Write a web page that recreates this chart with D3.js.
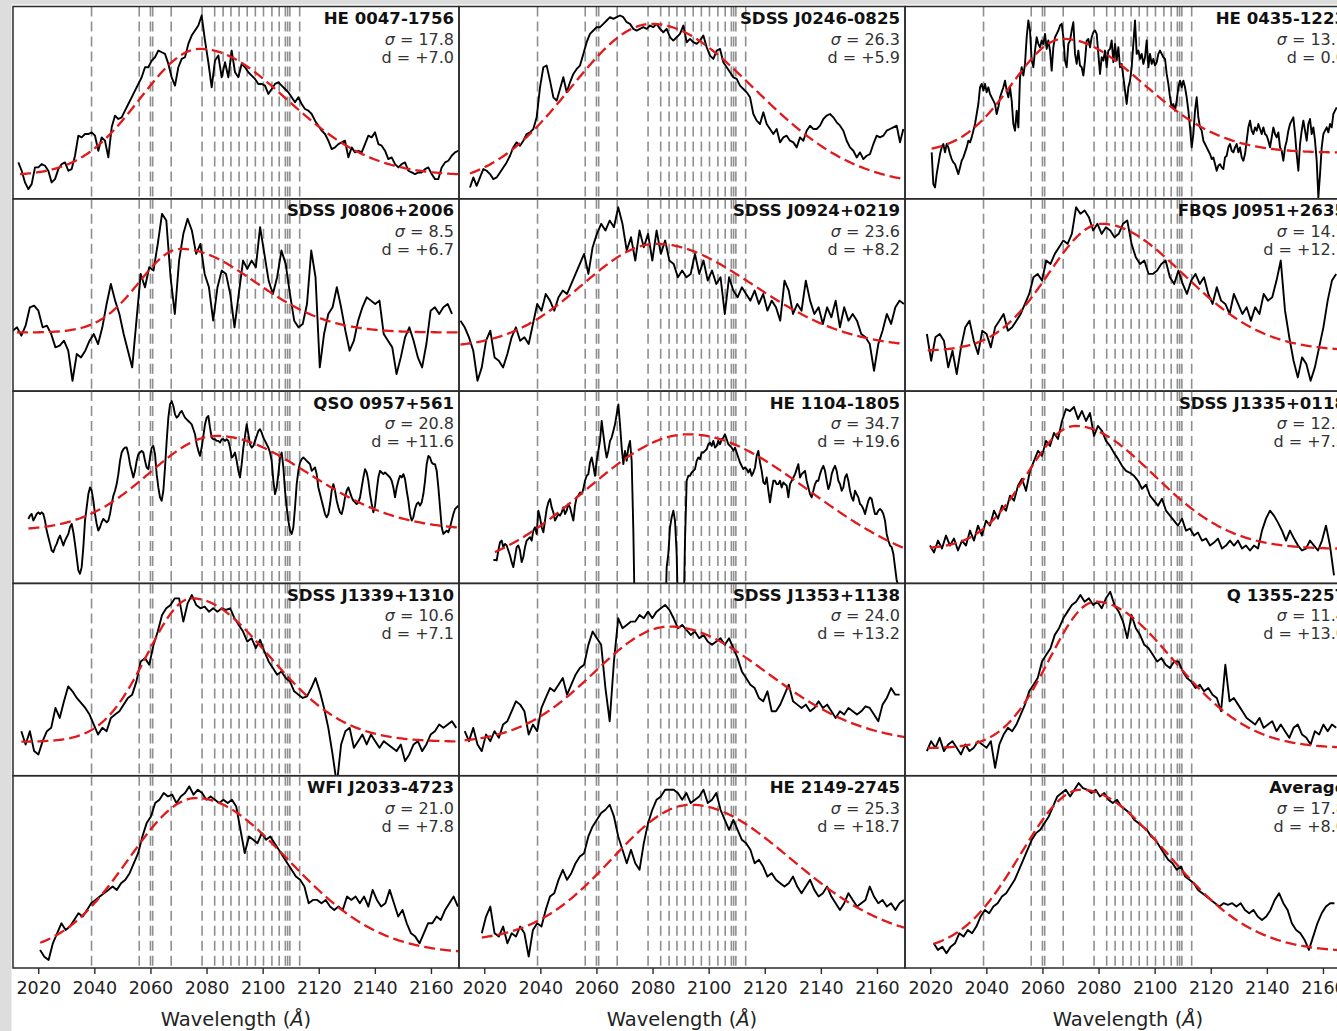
<!DOCTYPE html>
<html>
<head>
<meta charset="utf-8">
<script src="https://cdn.jsdelivr.net/npm/d3@7"></script>
<style>
  html, body { margin: 0; padding: 0; background: #fff; }
  svg { display: block; }
</style>
</head>
<body>
<svg id="chart" width="1337" height="1031"></svg>
<script>
// ---------------------------------------------------------------------------
// Shared axis values
// ---------------------------------------------------------------------------
const waveDomain = [2011, 2170];
const tickValues = [2020, 2040, 2060, 2080, 2100, 2120, 2140, 2160];

// Line positions marked by the grey dashed verticals (Angstrom)
const lineList = [2039.0, 2056.0, 2060.0, 2060.8, 2067.4, 2078.4, 2082.9, 2085.9, 2088.7,
                  2091.6, 2094.5, 2097.4, 2100.3, 2103.3, 2105.9, 2108.1, 2108.9, 2109.7, 2113.2];

// Intrinsic half-widths of the asymmetric emission profile (Angstrom);
// each side is broadened by the fitted Gaussian sigma.
const blueHalfWidth = 12;
const redHalfWidth  = 25;

// ---------------------------------------------------------------------------
// Objects and fit parameters
// ---------------------------------------------------------------------------
const names   = ["HE 0047-1756", "SDSS J0246-0825", "HE 0435-1223",
                 "SDSS J0806+2006", "SDSS J0924+0219", "FBQS J0951+2635",
                 "QSO 0957+561", "HE 1104-1805", "SDSS J1335+0118",
                 "SDSS J1339+1310", "SDSS J1353+1138", "Q 1355-2257",
                 "WFI J2033-4723", "HE 2149-2745", "Average"];
const sigmas  = [17.8, 26.3, 13.7, 8.5, 23.6, 14.7, 20.8, 34.7, 12.3, 10.6, 24.0, 11.4, 21.0, 25.3, 17.8];
const dValues = [7.0, 5.9, 0.0, 6.7, 8.2, 12.7, 11.6, 19.6, 7.3, 7.1, 13.2, 13.0, 7.8, 18.7, 8.0];

// ---------------------------------------------------------------------------
// Spectra: first wavelength, sampling step (Angstrom) and flux (arbitrary units)
// ---------------------------------------------------------------------------
const lamStart = [2012.90, 2014.92, 2020.51, 2010.93, 2011.52, 2018.80, 2016.47, 2023.24,
                  2019.91, 2013.97, 2013.04, 2018.80, 2020.65, 2019.12, 2021.23];
const lamStep  = [1.1884, 1.1884, 0.5942, 1.52, 1.52, 1.52, 0.5942, 0.5942,
                  1.426, 1.52, 1.52, 1.52, 1.52, 1.52, 1.52];

const fluxHE0047 = [11.5,9.0,5.5,3.5,5.0,10.0,10.0,11.0,10.5,9.0,5.5,6.5,9.5,11.0,11.5,9.0,9.5,13.5,19.5,19.0,
  20.0,20.0,20.5,19.5,15.0,19.0,18.0,13.0,22.0,25.5,24.5,25.0,27.0,29.0,31.0,33.0,35.0,37.0,40.0,40.0,
  42.0,43.0,45.0,44.5,44.0,41.0,37.0,34.5,40.0,42.5,43.0,47.0,49.5,51.0,52.5,55.5,48.0,41.5,34.0,42.0,
  43.5,37.0,41.5,37.0,45.0,38.5,37.0,41.0,40.0,38.5,37.5,36.5,35.0,35.0,34.5,32.0,33.5,35.0,35.5,34.5,
  33.5,32.5,31.0,29.5,31.0,29.0,27.5,27.0,26.0,24.0,22.5,21.0,20.0,18.0,15.5,16.0,17.0,17.5,18.0,13.0,
  16.0,14.5,15.0,14.5,17.0,19.5,19.0,20.5,17.0,16.5,15.0,12.5,13.0,11.0,10.0,11.0,11.5,9.0,8.5,8.0,
  8.5,8.5,9.5,10.0,8.0,6.5,6.5,10.0,11.5,12.0,13.5,14.5,15.0];

const fluxJ0246 = [4.0,7.0,4.5,7.0,9.5,9.0,8.0,6.5,7.0,8.5,10.0,11.5,13.5,16.0,17.5,16.5,18.0,20.0,20.5,21.5,
  25.0,34.0,40.0,40.5,36.0,31.0,30.0,33.5,37.0,32.5,35.5,38.0,39.5,40.5,44.0,47.5,50.0,51.0,52.0,52.0,
  53.0,54.0,55.0,54.5,55.0,55.5,55.0,53.5,53.0,51.5,51.0,51.5,52.0,51.5,52.5,52.0,53.0,51.5,50.5,51.5,
  49.0,48.0,49.0,50.0,52.5,47.5,48.5,47.5,47.0,48.0,49.5,46.0,43.5,42.5,45.0,45.5,41.5,40.0,38.5,37.0,
  36.5,34.5,33.5,32.5,31.0,26.0,24.0,23.0,26.5,23.0,21.5,20.0,21.5,17.5,19.0,19.5,18.0,17.5,16.0,19.0,
  18.0,21.0,22.5,21.5,21.5,22.5,24.5,25.5,26.0,25.0,23.5,22.5,21.0,18.0,16.0,15.0,13.0,14.5,12.5,13.5,
  14.0,17.0,19.5,19.0,19.5,21.0,21.5,22.0,22.5,17.5,21.5];

const fluxHE0435 = [14.5,5.0,4.0,8.0,11.0,14.0,16.0,17.0,14.5,17.0,16.0,14.0,12.5,11.5,11.0,9.5,8.0,10.0,12.0,13.0,
  14.5,16.0,18.0,17.5,19.0,21.0,23.0,26.0,29.0,34.0,35.0,33.0,35.0,32.5,34.0,32.0,31.0,30.0,29.0,26.0,
  28.0,31.0,32.5,34.0,36.0,33.0,31.0,34.0,30.0,23.0,21.0,27.0,22.0,37.0,40.0,37.5,41.0,49.0,54.0,51.0,
  42.0,40.0,45.0,49.0,47.0,46.0,48.0,47.0,50.0,45.5,48.0,45.0,39.0,46.0,49.0,50.0,51.0,52.5,53.0,49.0,
  42.0,40.0,47.0,48.0,51.0,53.5,44.0,41.0,45.0,40.5,40.0,37.5,42.0,48.0,48.5,46.0,49.0,50.5,51.0,50.0,
  44.0,38.0,43.0,42.0,45.0,40.0,45.0,45.5,48.0,41.5,47.0,42.0,46.0,40.0,41.0,37.0,33.0,29.0,34.0,36.0,
  40.0,47.0,54.0,44.0,45.0,42.5,44.0,41.0,43.0,48.0,40.0,44.0,41.0,42.5,40.5,41.5,44.0,45.0,44.0,43.0,
  42.5,38.0,35.0,31.0,28.0,29.0,27.0,30.0,34.0,36.0,34.0,36.0,34.0,31.0,27.0,22.0,16.0,20.0,27.0,31.0,
  25.0,22.0,21.0,18.0,17.0,16.0,15.0,14.0,12.5,13.0,11.0,9.0,10.5,11.0,10.0,9.5,13.0,13.5,16.0,17.0,
  15.0,14.5,16.0,17.0,14.5,16.0,13.0,12.0,14.0,18.0,22.0,24.0,21.0,20.0,22.0,21.0,23.0,21.5,20.0,22.0,
  20.0,19.5,18.0,16.0,19.0,22.0,20.0,19.0,20.5,16.0,15.0,12.0,16.0,18.0,21.0,23.0,24.0,25.0,20.0,14.0,
  9.0,17.0,21.0,24.0,21.0,18.0,23.0,24.5,20.0,22.0,18.0,12.0,1.0,8.0,16.0,20.0,21.0,22.0,20.5,23.0,
  22.0,26.0,27.0,28.0];

const fluxJ0806 = [19.0,20.0,17.5,20.5,26.0,26.5,25.0,20.0,20.5,18.0,14.0,14.5,16.0,13.0,4.0,12.0,11.0,13.0,16.0,18.0,
  15.0,20.0,27.0,33.0,28.0,24.0,18.0,13.0,8.0,22.0,36.0,32.0,38.0,37.0,45.0,54.0,52.0,35.0,24.0,40.0,
  48.0,52.5,49.0,42.0,45.0,36.0,32.0,22.0,32.0,37.0,36.0,30.0,20.0,30.0,40.0,37.5,40.0,38.0,50.0,42.0,
  34.0,30.0,35.0,43.0,39.0,30.0,22.0,20.0,21.0,27.0,43.0,35.0,8.0,18.0,24.0,26.0,32.0,26.0,19.0,13.0,
  16.0,22.0,26.0,29.0,28.0,27.0,28.0,18.0,16.0,14.0,6.0,11.0,17.0,20.0,16.0,11.0,8.0,15.0,25.0,26.0,
  24.0,26.0,27.0,24.0];

const fluxJ0924 = [22.0,20.0,17.0,13.0,4.0,8.0,16.0,19.0,11.0,10.0,8.0,12.0,17.0,20.0,16.0,17.0,15.0,21.0,27.0,25.0,
  30.0,28.0,25.0,29.0,31.0,30.0,33.0,36.0,39.0,42.0,36.0,44.0,48.0,51.0,49.0,52.0,50.0,56.0,51.0,43.0,
  47.0,40.0,49.0,44.0,48.0,40.0,49.0,42.0,46.0,40.0,39.0,35.0,37.0,35.0,36.0,42.0,36.0,40.0,34.0,37.0,
  33.0,35.0,24.0,35.0,31.0,29.0,32.0,30.0,28.0,31.0,27.0,30.0,25.0,28.0,26.0,22.0,34.0,31.0,24.0,27.0,
  25.0,34.0,28.0,24.0,26.0,21.0,26.0,23.0,28.0,20.0,26.0,22.0,24.0,22.0,18.0,17.0,15.0,7.0,15.0,19.0,
  24.0,21.0,26.0,28.0,27.0];

const fluxJ0951 = [18.0,10.0,17.0,18.0,16.0,8.0,13.0,6.0,14.0,20.0,22.0,16.0,12.0,19.0,18.0,14.0,20.0,22.0,24.0,19.0,
  20.0,22.0,24.0,27.0,30.0,35.0,36.0,34.0,40.0,39.0,42.0,44.0,46.0,45.0,48.0,56.0,54.0,55.0,53.0,49.0,
  51.0,48.0,50.0,49.0,47.0,48.0,51.0,52.0,45.0,41.0,39.0,40.0,36.0,36.0,37.0,39.0,40.0,35.0,33.0,37.0,
  33.0,30.0,34.0,36.0,33.0,35.0,30.0,27.0,32.0,28.0,27.0,24.0,30.0,27.0,24.0,26.0,22.0,26.0,24.0,30.0,
  28.0,29.0,34.0,40.0,25.0,17.0,10.0,5.0,11.0,9.0,4.0,8.0,14.0,20.0,28.0,34.0,36.0];

const fluxQSO0957 = [18.5,19.5,20.0,18.0,19.0,20.0,20.5,20.0,20.5,20.0,18.0,15.0,13.0,11.0,9.0,8.5,10.0,11.0,12.5,13.5,
  12.0,10.5,12.0,13.0,14.0,16.0,17.0,14.5,11.0,7.0,3.0,2.0,4.0,10.0,18.0,22.0,26.0,28.0,27.0,24.0,
  20.0,17.0,15.0,16.0,17.5,18.5,18.0,17.5,18.0,20.0,23.0,25.5,27.0,29.0,32.0,36.0,38.5,39.5,40.0,40.0,
  38.0,35.0,33.0,31.0,33.0,36.0,38.0,38.5,39.0,38.5,36.0,34.0,33.5,37.0,40.0,40.5,38.0,32.0,28.0,25.0,
  24.0,27.0,34.0,42.0,49.0,53.0,54.0,52.5,50.0,49.0,49.5,50.5,51.0,50.0,49.0,48.5,48.0,47.5,47.0,45.5,
  44.0,41.0,39.0,37.5,40.0,43.5,47.0,49.0,49.5,46.0,43.0,42.5,42.5,42.0,42.0,41.5,42.5,42.5,42.0,42.5,
  42.0,40.0,37.0,37.5,38.5,36.0,33.0,31.0,35.0,40.0,43.5,47.0,44.0,41.0,40.0,40.5,42.0,43.5,45.0,45.5,
  44.5,43.0,42.0,41.0,40.0,38.5,36.0,30.0,26.0,28.0,32.0,37.0,38.5,34.0,27.0,22.0,18.0,15.0,14.0,16.0,
  22.0,29.0,33.0,35.5,36.5,37.0,36.5,36.0,35.5,35.0,33.0,33.5,34.0,32.0,28.0,26.0,24.0,22.0,20.0,19.0,
  20.0,23.0,27.0,29.0,27.0,24.0,22.0,20.5,20.0,22.0,25.0,27.0,28.0,26.5,25.0,24.0,23.5,23.0,23.5,25.0,
  28.0,31.0,33.5,32.5,30.0,26.0,23.0,20.5,22.5,27.0,31.0,33.0,32.5,32.0,32.5,32.0,31.5,31.0,30.0,28.0,
  25.0,28.0,30.0,31.5,31.0,32.0,30.5,27.0,24.0,20.0,18.0,19.0,21.5,23.0,23.5,22.5,23.5,26.0,30.0,35.0,
  37.5,37.0,35.5,35.0,35.0,33.0,28.0,22.0,16.0,14.0,14.5,15.0,14.5,16.0,18.0,20.0,21.5,22.0,22.5];

const fluxHE1104 = [6.0,6.2,6.0,9.0,11.5,12.0,10.0,11.0,10.5,9.0,7.5,5.5,4.0,7.0,10.0,10.5,9.0,5.5,7.0,10.0,
  12.0,12.5,13.0,12.0,15.0,16.0,14.0,21.0,19.0,16.0,14.5,18.0,21.5,23.5,24.5,22.0,20.5,18.0,19.0,20.0,
  19.5,20.5,22.0,20.0,21.0,23.0,22.0,20.0,18.0,22.5,25.0,25.5,26.5,26.0,27.5,30.0,31.5,32.0,35.5,37.0,
  34.5,31.5,36.0,39.0,42.0,48.0,44.0,40.0,37.0,39.0,42.0,43.0,45.0,47.0,50.0,53.0,47.0,40.0,35.0,39.0,
  36.0,40.0,42.0,36.0,15.0,-15,-15,-15,-15,-15,-15,-15,-15,-15,-15,-15,-15,-15,-15,-15,-15,-15,-15,-15,
  4.0,8.0,16.0,19.0,21.0,18.0,8.0,-15,-15,-15,-15,12.0,30.0,31.5,31.5,32.5,33.0,33.5,36.0,37.0,
  36.5,38.5,38.5,39.0,39.5,41.0,41.5,40.5,42.0,40.0,40.5,42.0,41.0,42.5,43.0,44.0,42.5,41.0,40.5,40.0,
  39.0,40.0,38.5,37.0,35.5,34.5,33.5,34.0,33.5,32.5,33.5,31.5,32.5,34.0,37.5,39.0,35.5,33.0,29.5,29.0,
  31.0,27.0,23.5,27.0,30.0,30.0,29.0,29.0,30.0,28.0,29.5,29.0,28.5,25.0,29.0,30.0,31.0,32.0,33.5,35.0,
  31.0,32.0,32.5,33.0,30.0,28.0,26.0,25.0,27.0,29.0,30.0,30.0,32.0,33.5,34.5,33.0,30.0,27.5,29.0,32.0,
  33.5,34.5,33.0,30.0,29.0,27.0,28.0,31.0,32.0,30.0,27.0,25.0,24.0,27.0,26.0,25.0,23.0,22.5,21.5,20.0,
  22.0,24.0,25.0,24.5,22.0,20.0,20.0,21.0,21.5,21.0,20.0,18.0,14.0,12.0,10.5,10.0,8.0,4.0,0.0,-1.5];

const fluxJ1335 = [10.5,8.4,12.0,9.6,13.5,10.5,12.6,9.0,12.0,10.5,15.0,12.0,16.5,13.5,18.0,16.5,21.0,18.6,22.5,21.0,
  25.5,24.0,28.5,30.6,27.0,33.0,36.0,39.0,37.5,42.0,40.5,44.4,42.6,48.0,51.6,51.0,52.2,48.6,51.0,48.0,
  50.4,43.5,46.5,45.0,42.0,40.5,38.4,36.6,34.5,33.0,32.4,31.5,30.0,27.6,28.8,25.5,24.0,22.5,24.6,21.0,
  19.5,18.0,16.5,18.6,15.0,15.6,13.5,14.4,12.0,12.6,10.5,11.4,12.6,9.6,10.5,12.0,10.5,12.0,9.6,10.5,
  9.0,10.5,9.6,15.0,18.6,21.0,19.5,17.4,15.0,12.0,15.0,12.6,10.5,9.0,9.6,12.0,10.5,9.0,12.0,16.5,
  10.5,1.5];

const fluxJ1339 = [14.0,10.0,14.0,8.0,7.0,11.0,14.0,15.0,21.0,18.0,23.0,27.5,26.0,24.0,22.5,21.0,19.0,16.0,13.0,15.0,
  14.0,18.0,19.0,20.0,22.0,24.0,25.0,29.0,35.0,36.0,34.0,40.0,44.0,49.0,51.0,52.0,54.0,54.0,47.0,52.5,
  55.0,52.0,51.0,51.5,50.0,51.0,50.0,51.0,50.5,51.0,48.0,46.0,44.0,41.0,42.0,39.0,41.5,38.0,35.0,33.0,
  31.0,32.0,30.0,29.0,26.0,25.0,24.0,24.5,27.0,30.0,26.0,21.0,15.0,7.0,-2.0,10.0,14.0,15.0,9.0,11.0,
  13.0,10.0,13.0,11.0,9.0,11.0,10.0,9.0,8.0,10.0,5.0,7.0,10.0,11.0,8.0,10.0,13.0,14.0,16.0,15.0,
  16.0,17.0,15.0];

const fluxJ1353 = [14.0,11.0,15.0,10.0,8.0,13.0,11.0,14.0,12.0,16.0,17.0,20.0,23.0,22.0,20.0,13.0,16.0,14.0,21.0,24.0,
  27.0,26.0,28.0,30.0,25.0,28.0,31.0,33.0,34.0,40.0,44.0,42.0,40.0,27.0,17.0,35.0,48.0,45.0,46.0,47.0,
  47.0,49.0,48.0,50.0,48.0,50.0,51.0,52.0,50.5,48.0,45.0,46.0,44.5,43.0,44.0,42.0,43.0,41.0,40.0,41.0,
  42.0,40.0,42.0,39.0,36.0,32.0,30.0,28.0,27.0,24.0,23.0,26.0,20.0,20.0,22.0,25.0,28.0,23.0,22.0,21.0,
  22.0,20.0,21.0,23.0,21.0,22.0,20.0,18.0,20.0,19.0,21.0,20.0,19.0,20.0,21.5,21.0,19.0,17.0,22.0,24.0,
  27.0,25.0,25.0];

const fluxQ1355 = [8.0,11.0,9.0,12.0,8.0,10.0,11.0,9.0,7.0,10.0,8.0,9.0,11.0,10.0,9.0,11.0,3.0,10.0,13.0,15.0,
  14.0,16.0,19.0,22.0,26.0,28.0,30.0,35.0,37.0,39.0,43.0,45.0,48.0,50.0,52.0,53.0,55.0,53.0,54.0,52.0,
  53.0,51.0,54.0,56.0,52.0,50.0,47.0,42.0,49.0,45.0,43.0,40.0,39.0,37.0,35.0,36.0,34.0,33.0,35.0,35.0,
  32.0,30.0,29.0,27.0,28.0,26.0,27.0,25.0,24.0,20.0,34.0,23.0,24.0,22.0,20.0,18.0,17.0,16.0,18.0,15.0,
  16.0,17.0,14.0,16.0,14.0,12.0,15.0,16.0,13.0,12.0,10.0,14.0,13.0,16.0,14.0,16.0,15.0];

const fluxWFI2033 = [6.0,4.0,3.0,8.0,11.0,14.0,12.0,13.0,15.0,17.0,16.0,18.0,20.0,21.0,22.0,23.0,24.0,25.0,24.0,26.0,
  27.0,29.0,32.0,35.0,40.0,44.0,46.0,50.0,51.0,53.0,52.0,52.5,50.0,52.0,53.0,55.0,52.5,54.0,53.0,51.0,
  52.0,51.0,50.0,51.0,50.0,51.0,49.0,42.0,35.0,40.0,39.0,38.0,41.0,39.0,40.0,38.0,36.0,34.0,32.0,30.0,
  28.0,27.0,25.0,20.0,21.0,21.0,20.0,21.0,19.0,18.0,19.0,18.0,22.0,21.0,22.0,20.0,22.0,19.0,24.0,21.0,
  19.0,20.0,24.0,20.0,16.0,18.0,14.0,11.0,10.0,8.0,11.0,14.0,14.0,16.0,15.0,18.0,20.0,22.0,19.0];

const fluxHE2149 = [11.0,16.0,19.0,11.0,10.0,13.0,8.0,11.0,10.0,13.0,11.0,4.0,12.0,14.0,13.0,18.0,22.0,23.0,27.0,30.0,
  27.0,29.0,32.0,34.0,35.0,40.0,43.0,45.0,47.0,48.0,49.5,46.0,40.0,36.0,32.0,36.0,32.0,30.0,38.0,44.0,
  48.0,51.0,52.0,54.0,54.0,54.0,53.0,51.0,53.0,50.0,51.0,52.0,54.0,50.0,51.0,53.0,48.0,45.0,42.0,45.0,
  42.0,39.0,38.0,36.0,32.0,33.0,31.0,28.0,29.0,27.0,26.0,25.0,26.0,28.0,25.0,23.0,25.0,27.0,24.0,22.0,
  23.0,25.0,22.0,20.0,18.0,20.0,23.0,21.0,19.0,20.0,21.0,25.0,22.0,20.0,21.0,19.0,20.0,18.0,20.0,21.0];

const fluxAverage = [8.0,6.0,7.0,5.0,7.0,8.0,11.0,10.0,12.0,11.0,13.0,16.0,18.0,17.0,19.0,20.0,22.0,23.0,25.0,27.0,
  30.0,33.0,36.0,39.0,41.0,42.0,44.0,46.0,49.0,52.0,53.0,54.0,52.0,54.0,56.0,54.5,54.0,53.0,54.0,52.0,
  53.0,51.0,50.0,51.0,49.0,48.0,47.0,45.0,44.0,43.0,42.0,40.0,39.0,37.0,35.0,33.0,32.0,30.0,31.0,28.0,
  27.0,26.0,24.0,23.0,22.0,21.0,20.0,19.0,20.0,19.5,20.0,19.0,20.0,18.0,17.0,18.0,16.0,15.0,16.0,18.0,
  21.0,23.0,20.0,18.0,14.0,12.0,11.0,9.0,6.0,10.0,14.0,17.0,19.0,20.0,20.0];

const spectra = [fluxHE0047, fluxJ0246, fluxHE0435, fluxJ0806, fluxJ0924, fluxJ0951,
                 fluxQSO0957, fluxHE1104, fluxJ1335, fluxJ1339, fluxJ1353, fluxQ1355,
                 fluxWFI2033, fluxHE2149, fluxAverage];

// Flux range shown in each panel
const fluxDomains = [[0.6, 58.2], [0.6, 58.2], [0.6, 58.2],
                     [0.9, 58.5], [0.9, 58.5], [0.9, 58.5],
                     [-0.9, 57.0], [-0.9, 57.0], [-0.9, 57.0],
                     [0.6, 58.5], [0.6, 58.5], [0.6, 58.5],
                     [0.6, 58.2], [0.6, 58.2], [0.6, 58.2]];

// Fitted profile: first wavelength, wavelength and flux of the maximum, flux at 2165 A
const fitFrom    = [2013.5, 2014.9, 2020.5, 2012.4, 2011.5, 2019.1, 2016.5, 2023.8,
                    2019.9, 2014.0, 2013.0, 2019.1, 2020.7, 2019.1, 2021.2];
const fitPeakLam = [2077.7, 2079.7, 2067.4, 2070.8, 2081.4, 2081.1, 2083.6, 2092.8,
                    2071.6, 2074.8, 2086.0, 2079.0, 2076.3, 2093.6, 2073.8];
const fitPeak    = [45.5, 53.0, 48.5, 43.5, 45.0, 51.0, 43.5, 44.0, 46.5, 54.0, 45.5, 53.0, 51.5, 49.5, 54.0];
const fitTail    = [8.2, 7.3, 14.5, 18.5, 15.5, 13.5, 16.3, 11.5, 9.6, 11.0, 13.0, 9.2, 6.0, 14.0, 6.0];
const tailLam = 2165;

// ---------------------------------------------------------------------------
// Layout
// ---------------------------------------------------------------------------
const nCols = 3, nRows = 5;
const gridLeft = 13, gridTop = 6.5, panelW = 446, panelH = 192.3;
const font = "DejaVu Sans, Liberation Sans, sans-serif";

const svg = d3.select("#chart");

// light frame strips along the left and top edges
svg.append("rect").attr("x", 0).attr("y", 0).attr("width", 11.5).attr("height", 1031).attr("fill", "#dddddd");
svg.append("rect").attr("x", 0).attr("y", 0).attr("width", 1337).attr("height", 4.5).attr("fill", "#dddddd");

// unit-height asymmetric profile: the blue and red sides combine the fitted
// Gaussian sigma with the intrinsic half-widths
function profile(lam, peakLam, sigma) {
  const w = lam < peakLam ? Math.hypot(sigma, blueHalfWidth) : Math.hypot(sigma, redHalfWidth);
  const z = (lam - peakLam) / w;
  return Math.exp(-0.5 * z * z);
}

const defs = svg.append("defs");

names.forEach((name, i) => {
  const col = i % nCols, row = Math.floor(i / nCols);
  const x0 = gridLeft + col * panelW, y0 = gridTop + row * panelH;

  const x = d3.scaleLinear().domain(waveDomain).range([x0, x0 + panelW]);
  const y = d3.scaleLinear().domain(fluxDomains[i]).range([y0 + panelH, y0]);

  defs.append("clipPath").attr("id", "clip" + i)
    .append("rect").attr("x", x0).attr("y", y0).attr("width", panelW).attr("height", panelH);

  const g = svg.append("g");
  const plot = g.append("g").attr("clip-path", `url(#clip${i})`);

  // line markers
  plot.selectAll("line.marker").data(lineList).join("line")
    .attr("class", "marker")
    .attr("x1", d => x(d)).attr("x2", d => x(d))
    .attr("y1", y0).attr("y2", y0 + panelH)
    .attr("stroke", "#8f8f8f").attr("stroke-width", 1.6)
    .attr("stroke-dasharray", "10,5");

  // observed spectrum
  const pts = spectra[i].map((f, k) => [lamStart[i] + k * lamStep[i], f]);
  plot.append("path")
    .datum(pts)
    .attr("fill", "none").attr("stroke", "#000").attr("stroke-width", 1.9)
    .attr("stroke-linejoin", "round")
    .attr("d", d3.line().x(d => x(d[0])).y(d => y(d[1])));

  // fitted profile
  const sig = sigmas[i], pk = fitPeakLam[i];
  const rTail = profile(tailLam, pk, sig);
  const amp = (fitPeak[i] - fitTail[i]) / (1 - rTail);
  const base = fitPeak[i] - amp;
  const fitPts = d3.range(fitFrom[i], waveDomain[1] + 0.01, 0.5)
    .map(l => [l, base + amp * profile(l, pk, sig)]);
  plot.append("path")
    .datum(fitPts)
    .attr("fill", "none").attr("stroke", "#e2191b").attr("stroke-width", 2.3)
    .attr("stroke-dasharray", "11,5")
    .attr("d", d3.line().x(d => x(d[0])).y(d => y(d[1])));

  // labels
  const tx = x0 + panelW - 5;
  g.append("text").attr("x", tx).attr("y", y0 + 17.5)
    .attr("text-anchor", "end").attr("font-family", font).attr("font-weight", "bold")
    .attr("font-size", 16.6).attr("fill", "#111").text(name);
  const sLine = g.append("text").attr("x", tx).attr("y", y0 + 38)
    .attr("text-anchor", "end").attr("font-family", font).attr("font-size", 16).attr("fill", "#333");
  sLine.append("tspan").attr("font-style", "italic").text("σ");
  sLine.append("tspan").text(" = " + sig.toFixed(1));
  const dv = dValues[i];
  g.append("text").attr("x", tx).attr("y", y0 + 56)
    .attr("text-anchor", "end").attr("font-family", font).attr("font-size", 16).attr("fill", "#333")
    .text("d = " + (dv > 0 ? "+" : "") + dv.toFixed(1));

  // frame
  g.append("rect").attr("x", x0).attr("y", y0).attr("width", panelW).attr("height", panelH)
    .attr("fill", "none").attr("stroke", "#2a2a2a").attr("stroke-width", 1.5);

  // wavelength axis on the bottom row
  if (row === nRows - 1) {
    const axis = d3.axisBottom(x).tickValues(tickValues).tickSize(6).tickPadding(4)
      .tickFormat(d3.format("d"));
    const ag = g.append("g").attr("transform", `translate(0,${y0 + panelH})`).call(axis);
    ag.select(".domain").remove();
    ag.selectAll(".tick line").attr("stroke", "#2a2a2a").attr("stroke-width", 1.4);
    ag.selectAll(".tick text").attr("font-family", font).attr("font-size", 17.5)
      .attr("fill", "#222").attr("dy", "0.9em");
    const lab = g.append("text").attr("x", x0 + panelW / 2).attr("y", 1026)
      .attr("text-anchor", "middle").attr("font-family", font).attr("font-size", 19.5).attr("fill", "#222");
    lab.append("tspan").text("Wavelength (");
    lab.append("tspan").attr("font-style", "italic").text("Å");
    lab.append("tspan").text(")");
  }
});
</script>
</body>
</html>
